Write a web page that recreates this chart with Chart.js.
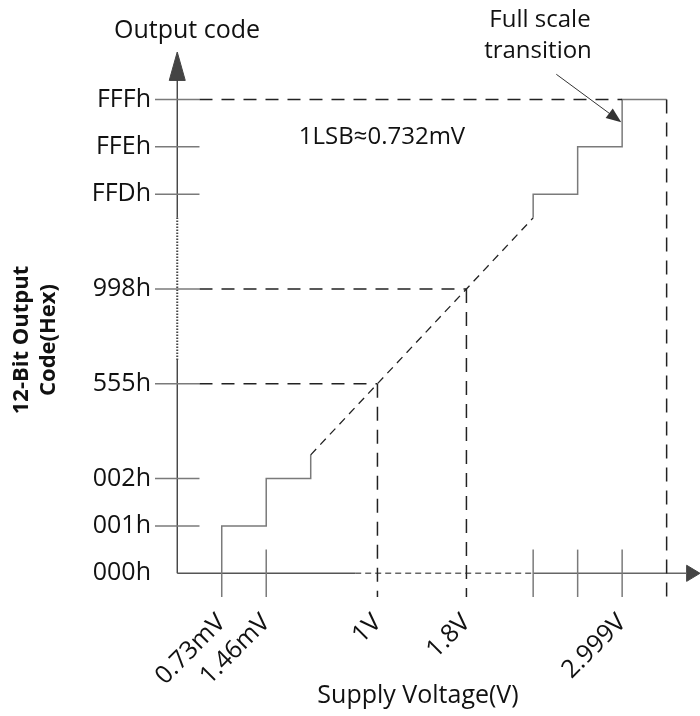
<!DOCTYPE html>
<html>
<head>
<meta charset="utf-8">
<script src="https://cdn.jsdelivr.net/npm/chart.js@4.4.1/dist/chart.umd.min.js"></script>
<style>
  html, body { margin: 0; padding: 0; background: #fff; }
  #wrap { width: 700px; height: 716px; }
</style>
</head>
<body>
<div id="wrap"><canvas id="chart" width="700" height="716"></canvas></div>
<script>
// axis positions are in drawing units (one unit = one code step / one tick step)
const codeLabels = ['000h', '001h', '002h', '555h', '998h', 'FFDh', 'FFEh', 'FFFh'];
const codeLevels = [0, 1, 2, 4, 6, 8, 9, 10];
const voltLabels = ['0.73mV', '1.46mV', '1V', '1.8V', '2.999V'];
const voltPos = [1, 2, 4.5, 6.5, 10];
const plainTicks = [2, 8, 9, 10];        // short marks on the x axis
const fullScaleX = 11;                    // dashed full scale line

// transfer curve
const lowStepX = [1, 1, 2, 2, 3, 3];
const lowStepY = [-0.5, 1, 1, 2, 2, 2.5];
const rampX = [3, 8];
const rampY = [2.5, 7.5];
const highStepX = [8, 8, 9, 9, 10, 10, 11];
const highStepY = [7.5, 8, 8, 9, 9, 10, 10];

// dashed guides: code level -> voltage position
const guideLevels = [4, 6, 10];
const guideEnds = [4.5, 6.5, 10];

const pts = (xs, ys) => xs.map((x, i) => ({ x, y: ys[i] }));

function seg(data, color, width, dash, extra) {
  return Object.assign({
    type: 'line', data, borderColor: color, borderWidth: width,
    borderDash: dash || [], pointRadius: 0, fill: false, tension: 0, clip: false
  }, extra || {});
}

const datasets = [];

// guides
guideLevels.forEach((lv, i) => {
  datasets.push(seg(pts([0.5, guideEnds[i]], [lv, lv]), '#222', 1.5, [13, 9]));
  if (i < 2) datasets.push(seg(pts([guideEnds[i], guideEnds[i]], [lv, -0.5]), '#222', 1.5, [14, 9]));
});
datasets.push(seg(pts([fullScaleX, fullScaleX], [10, -0.5]), '#222', 1.5, [14, 9]));

// ramp + steps
datasets.push(seg(pts(rampX, rampY), '#222', 1.3, [8, 6]));
datasets.push(seg(pts(lowStepX, lowStepY), '#7a7a7a', 1.5));
datasets.push(seg(pts(highStepX, highStepY), '#7a7a7a', 1.5));

// tick marks
codeLevels.slice(1).forEach(lv => {
  datasets.push(seg(pts([-0.5, 0.5], [lv, lv]), '#7a7a7a', 1.5));
});
plainTicks.forEach(p => {
  datasets.push(seg(pts([p, p], [-0.5, 0.5]), '#7a7a7a', 1.5));
});

// axes
datasets.push(seg(pts([0, 4], [0, 0]), '#555', 1.5));
datasets.push(seg(pts([4, 8], [0, 0]), '#666', 1.4, [6, 4]));
datasets.push(seg(pts([8, 11.45], [0, 0]), '#666', 1.5));
datasets.push(seg(pts([0, 0], [0, 4.5]), '#333', 1.3));
datasets.push(seg(pts([0, 0], [4.5, 7.5]), '#444', 2, [1.5, 1.5]));
datasets.push(seg(pts([0, 0], [7.5, 10.4]), '#333', 1.3));
datasets.push(seg(pts([-0.18, 0, 0.18, -0.18], [10.4, 11, 10.4, 10.4]), '#444', 1,
  [], { fill: 'shape', backgroundColor: '#444' }));
datasets.push(seg(pts([11.45, 11.75, 11.45, 11.45], [0.17, 0, -0.17, 0.17]), '#444', 1,
  [], { fill: 'shape', backgroundColor: '#444' }));

const textPlugin = {
  id: 'texts',
  afterDraw(chart) {
    const ctx = chart.ctx;
    const sx = chart.scales.x, sy = chart.scales.y;
    ctx.save();
    ctx.fillStyle = '#111';
    ctx.textAlign = 'center';
    ctx.textBaseline = 'middle';
    ctx.font = "25px 'Open Sans'";
    ctx.fillText('Output code', 187, 31);
    ctx.fillText('Supply Voltage(V)', 418, 696);
    ctx.font = "24px 'Open Sans'";
    ctx.fillText('Full scale', 540, 20);
    ctx.fillText('transition', 538, 51);
    ctx.fillText('1LSB\u22480.732mV', 382, 137);
    ctx.font = "bold 22px 'Open Sans'";
    ctx.translate(0, 340);
    ctx.rotate(-Math.PI / 2);
    ctx.fillText('12-Bit Output', 0, 22);
    ctx.fillText('Code(Hex)', 0, 49);
    ctx.restore();

    // pointer to the full scale transition
    const x0 = sx.getPixelForValue(8.52), y0 = sy.getPixelForValue(10.53);
    const x1 = sx.getPixelForValue(9.98), y1 = sy.getPixelForValue(9.52);
    const a = Math.atan2(y1 - y0, x1 - x0);
    ctx.save();
    ctx.strokeStyle = '#333';
    ctx.fillStyle = '#333';
    ctx.lineWidth = 1;
    ctx.beginPath();
    ctx.moveTo(x0, y0);
    ctx.lineTo(x1 - 12 * Math.cos(a), y1 - 12 * Math.sin(a));
    ctx.stroke();
    ctx.beginPath();
    ctx.moveTo(x1, y1);
    ctx.lineTo(x1 - 15 * Math.cos(a) + 6 * Math.sin(a), y1 - 15 * Math.sin(a) - 6 * Math.cos(a));
    ctx.lineTo(x1 - 15 * Math.cos(a) - 6 * Math.sin(a), y1 - 15 * Math.sin(a) + 6 * Math.cos(a));
    ctx.closePath();
    ctx.fill();
    ctx.restore();
  }
};

Chart.defaults.font.family = "'Open Sans', sans-serif";
Chart.defaults.font.size = 25;
Chart.defaults.color = '#111';

new Chart(document.getElementById('chart'), {
  type: 'line',
  data: { datasets },
  options: {
    responsive: false,
    animation: false,
    events: [],
    layout: { padding: { top: 52, right: 0, bottom: 0, left: 0 } },
    plugins: { legend: { display: false }, tooltip: { enabled: false } },
    scales: {
      x: {
        type: 'linear', min: -0.5, max: 11.75,
        grid: { display: false, drawTicks: false },
        border: { display: false },
        afterBuildTicks: s => { s.ticks = voltPos.map(v => ({ value: v })); },
        afterFit: s => { s.height = 119; },
        ticks: {
          autoSkip: false, minRotation: 45, maxRotation: 45, padding: 11,
          font: { size: 25 },
          callback: (v, i) => voltLabels[i]
        }
      },
      y: {
        type: 'linear', min: -0.5, max: 11,
        grid: { display: false, drawTicks: false },
        border: { display: false },
        afterBuildTicks: s => { s.ticks = codeLevels.map(v => ({ value: v })); },
        afterFit: s => { s.width = 155; },
        ticks: {
          autoSkip: false, padding: 4,
          font: { size: 25 },
          callback: (v, i) => codeLabels[i]
        }
      }
    }
  },
  plugins: [textPlugin]
});
</script>
</body>
</html>
